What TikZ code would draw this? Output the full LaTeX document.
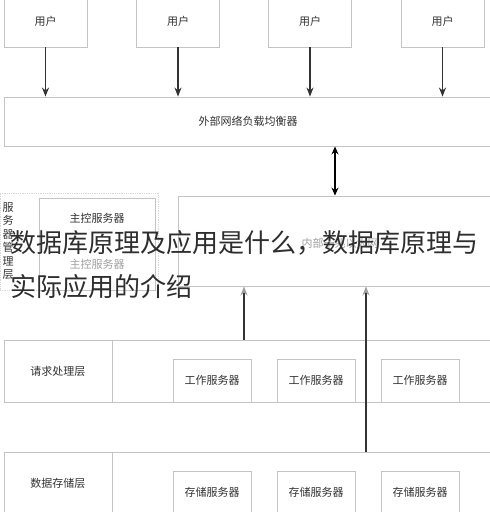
\documentclass[tikz,border=0pt]{standalone}
\usepackage{fontspec}
\setmainfont{Noto Sans CJK SC}
\usetikzlibrary{arrows.meta}
\definecolor{boxgray}{HTML}{C4C4C4}
\definecolor{txt}{HTML}{333333}
\definecolor{faint}{HTML}{A0A0A0}
\definecolor{title}{HTML}{2E2E2E}
\begin{document}
\begin{tikzpicture}[x=1pt,y=-1pt,
  box/.style={draw=boxgray, line width=0.9pt, rectangle, inner sep=0pt, text=txt, font=\fontsize{11}{13}\selectfont},
  lbl/.style={inner sep=0pt, text=txt, font=\fontsize{11}{13}\selectfont},
  arr/.style={draw=black!80, line width=1.2pt, -{Stealth[length=9pt,width=7pt]}},
  dbl/.style={draw=black, line width=1.2pt, {Stealth[length=8pt,width=7pt]}-{Stealth[length=8pt,width=7pt]}},
  uparr/.style={draw=black!80, line width=1.2pt, -{Stealth[length=9pt,width=7pt,color=faint]}},
  layer/.style={draw=boxgray, line width=0.9pt},
  ttl/.style={inner sep=0pt, anchor=west, text=title, font=\fontsize{26}{30}\selectfont}]
\useasboundingbox (0,0) rectangle (490,512);
\fill[white] (0,0) rectangle (490,512);
% users
\node[box, minimum width=83pt, minimum height=52pt] (u1) at (45.5,21) {用户};
\node[box, minimum width=83pt, minimum height=52pt] (u2) at (178,21) {用户};
\node[box, minimum width=83pt, minimum height=52pt] (u3) at (310,21) {用户};
\node[box, minimum width=83pt, minimum height=52pt] (u4) at (442.5,21) {用户};
% load balancer
\node[box, minimum width=492pt, minimum height=49pt] (lb) at (250,121.5) {};
\node[lbl] (lbt) at (248,121) {外部网络负载均衡器};
\foreach \u in {u1,u2,u3,u4} \draw[arr] (\u.south) -- (\u.south |- lb.north);
% internal network
\node[box, minimum width=318pt, minimum height=90pt] (net) at (337,241) {};
\node[lbl, text=faint] (nett) at (340,243) {内部千兆以太网};
\coordinate (da) at (335,0);
\draw[dbl] (lb.south -| da) -- (net.north -| da);
% server management layer
\node[draw=boxgray!70, densely dotted, line width=0.8pt, minimum width=158pt, minimum height=97pt, inner sep=0pt] (mgmt) at (79,241.5) {};
\node[box, minimum width=116pt, minimum height=92pt] (ctrl) at (97,244) {};
\node[lbl] (ctrlt) at (97,218) {主控服务器};
\node[lbl, text=faint] (ctrlb) at (97,264) {主控服务器};
\node[lbl, align=center, font=\fontsize{11}{13.4}\selectfont] (mgmtt) at (8,241) {服\\务\\器\\管\\理\\层};
% request layer
\node[layer, minimum width=492pt, minimum height=62pt, inner sep=0pt] (req) at (250,371) {};
\coordinate (rdiv) at (112,0);
\draw[layer] (req.north -| rdiv) -- (req.south -| rdiv);
\node[lbl] (reqt) at (58,371) {请求处理层};
\node[box, minimum width=78pt, minimum height=43pt] (w1) at (212,380.5) {工作服务器};
\node[box, minimum width=78pt, minimum height=43pt] (w2) at (316,380.5) {工作服务器};
\node[box, minimum width=78pt, minimum height=43pt] (w3) at (420,380.5) {工作服务器};
% storage layer
\node[layer, minimum width=492pt, minimum height=68pt, inner sep=0pt] (sto) at (250,486) {};
\draw[layer] (sto.north -| rdiv) -- (sto.south -| rdiv);
\node[lbl] (stot) at (58,483) {数据存储层};
\node[box, minimum width=78pt, minimum height=42pt] (s1) at (212,492) {存储服务器};
\node[box, minimum width=78pt, minimum height=42pt] (s2) at (316,492) {存储服务器};
\node[box, minimum width=78pt, minimum height=42pt] (s3) at (420,492) {存储服务器};
% up arrows
\coordinate (ua) at (244,0);
\coordinate (ub) at (366,0);
\draw[uparr] (req.north -| ua) -- (net.south -| ua);
\draw[uparr] (sto.north -| ub) -- (net.south -| ub);
% overlay title
\node[ttl] (t1) at (10,243) {数据库原理及应用是什么，数据库原理与};
\node[ttl] (t2) at (10,287) {实际应用的介绍};
\end{tikzpicture}
\end{document}
